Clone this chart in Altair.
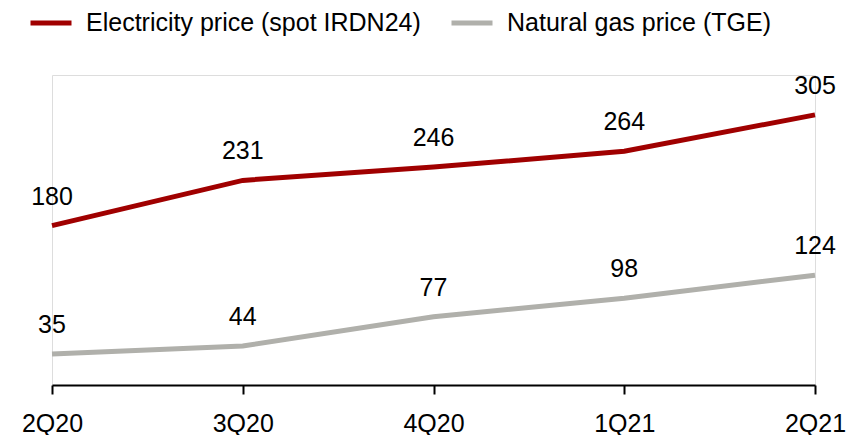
import altair as alt
import pandas as pd

quarters = ["2Q20", "3Q20", "4Q20", "1Q21", "2Q21"]
electricity = [180, 231, 246, 264, 305]
gas = [35, 44, 77, 98, 124]
series_names = ["Electricity price (spot IRDN24)", "Natural gas price (TGE)"]
colors = ["#A00000", "#B0B0AB"]

rows = []
for q, v in zip(quarters, electricity):
    rows.append({"quarter": q, "value": v, "series": series_names[0]})
for q, v in zip(quarters, gas):
    rows.append({"quarter": q, "value": v, "series": series_names[1]})
df = pd.DataFrame(rows)

FONT = "Liberation Sans"

x = alt.X("quarter:N", sort=quarters, title=None,
          scale=alt.Scale(type="point", padding=0),
          axis=alt.Axis(labelAngle=0, labelFontSize=25, labelFont=FONT,
                        labelColor="black", domainColor="black", domainWidth=2,
                        tickColor="black", tickWidth=2, tickSize=9,
                        labelPadding=17, grid=False))
y = alt.Y("value:Q", title=None, scale=alt.Scale(domain=[0, 340]), axis=None)

color = alt.Color("series:N", sort=series_names,
                  scale=alt.Scale(domain=series_names, range=colors),
                  legend=alt.Legend(title=None, orient="none", direction="horizontal",
                                    legendX=-24, legendY=-75, symbolType="stroke",
                                    symbolSize=1681, symbolStrokeWidth=5,
                                    labelFontSize=25, labelFont=FONT, labelColor="black",
                                    labelOffset=12, columnPadding=20, padding=0,
                                    labelLimit=500))

lines = alt.Chart(df).mark_line(strokeWidth=5).encode(x=x, y=y, color=color)
labels = alt.Chart(df).mark_text(fontSize=25, font=FONT, color="black", dy=-29,
                                 baseline="middle").encode(
    x=alt.X("quarter:N", sort=quarters),
    y="value:Q",
    detail="series:N",
    text="value:Q")

chart = alt.layer(lines, labels).properties(
    width=763, height=310,
    autosize=alt.AutoSizeParams(type="none"),
    padding={"left": 44, "top": 67, "right": 31, "bottom": 50},
).configure_view(stroke=None).configure(background="white")

chart.save("out.html", embed_options={"renderer": "svg", "actions": False})
